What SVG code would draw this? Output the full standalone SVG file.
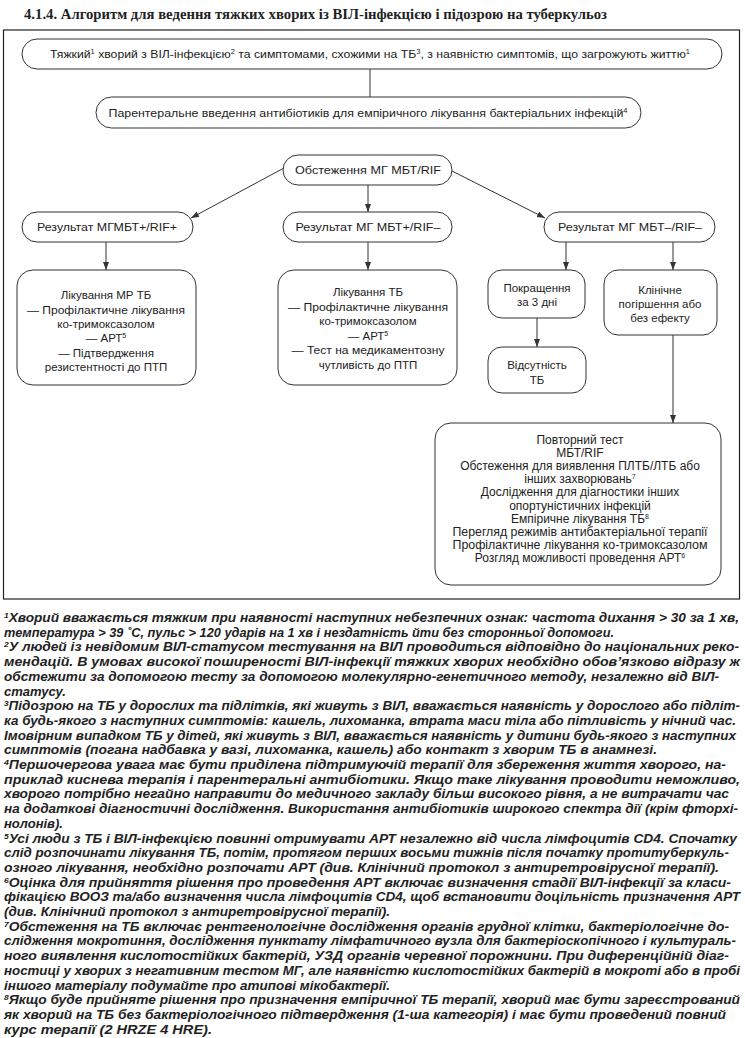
<svg xmlns="http://www.w3.org/2000/svg" width="745" height="1038" viewBox="0 0 745 1038">
<style>
.box{fill:#fff;stroke:#333;stroke-width:1}
.t{font-family:"Liberation Sans",Arial,sans-serif;font-size:11.5px;fill:#222;text-anchor:middle}
.bt{font-family:"Liberation Sans",Arial,sans-serif;font-size:12px;fill:#222;text-anchor:middle}
.sup{font-size:7px}
.fn{font-family:"Liberation Sans",Arial,sans-serif;font-size:13px;font-weight:bold;font-style:italic;fill:#222}
.fsup{font-size:8px}
.title{font-family:"Liberation Serif","Times New Roman",serif;font-size:15px;font-weight:bold;fill:#222}
.c{stroke:#333;stroke-width:1;fill:none}
.ca{stroke:#333;stroke-width:1;fill:none;marker-end:url(#ah)}
</style>
<defs>
<marker id="ah" markerUnits="userSpaceOnUse" markerWidth="8" markerHeight="6" refX="8" refY="3" orient="auto">
<path d="M0,0 L8,3 L0,6 z" fill="#333"/>
</marker>
</defs>
<rect width="745" height="1038" fill="#fff"/>
<text class="title" x="24" y="19" textLength="583" lengthAdjust="spacingAndGlyphs">4.1.4. Алгоритм для ведення тяжких хворих із ВІЛ-інфекцією і підозрою на туберкульоз</text>
<rect x="3.5" y="30" width="736" height="569" fill="none" stroke="#222" stroke-width="1.2"/>

<g id="connectors">
<line class="c" x1="370" y1="69" x2="370" y2="97"/>
<line class="ca" x1="284" y1="168" x2="191" y2="218"/>
<line class="ca" x1="368" y1="185" x2="368" y2="212"/>
<line class="ca" x1="452" y1="171" x2="545" y2="218"/>
<line class="ca" x1="106" y1="242" x2="106" y2="270"/>
<line class="ca" x1="368" y1="242" x2="368" y2="270"/>
<line class="ca" x1="566" y1="242" x2="566" y2="270"/>
<line class="ca" x1="673" y1="242" x2="673" y2="270"/>
<line class="ca" x1="537" y1="318" x2="537" y2="347"/>
<line class="ca" x1="673" y1="335" x2="673" y2="423"/>
</g>

<g id="n1">
<rect class="box" x="22" y="39" width="700" height="30" rx="15"/>
<text class="t" x="370" y="58" font-size="10.5" textLength="640" lengthAdjust="spacingAndGlyphs">Тяжкий<tspan class="sup" dy="-4">1</tspan><tspan dy="4"> хворий з ВІЛ-інфекцією</tspan><tspan class="sup" dy="-4">2</tspan><tspan dy="4"> та симптомами, схожими на ТБ</tspan><tspan class="sup" dy="-4">3</tspan><tspan dy="4">, з наявністю симптомів, що загрожують життю</tspan><tspan class="sup" dy="-4">1</tspan></text>
</g>

<g id="n2">
<rect class="box" x="96" y="97" width="545" height="31" rx="15.5"/>
<text class="t" x="368" y="117" textLength="519" lengthAdjust="spacingAndGlyphs">Парентеральне  введення антибіотиків для емпіричного лікування бактеріальних інфекцій<tspan class="sup" dy="-4">4</tspan></text>
</g>

<g id="n3">
<rect class="box" x="283" y="155" width="169" height="30" rx="15"/>
<text class="t" x="368" y="174" textLength="146" lengthAdjust="spacingAndGlyphs">Обстеження МГ МБТ/RIF</text>
</g>

<g id="rA">
<rect class="box" x="22" y="212" width="171" height="30" rx="15"/>
<text class="t" x="107" y="231" textLength="140" lengthAdjust="spacingAndGlyphs">Результат МГМБТ+/RIF+</text>
</g>
<g id="rB">
<rect class="box" x="283" y="212" width="169" height="30" rx="15"/>
<text class="t" x="368" y="231" textLength="145" lengthAdjust="spacingAndGlyphs">Результат МГ МБТ+/RIF–</text>
</g>
<g id="rC">
<rect class="box" x="544" y="212" width="171" height="30" rx="15"/>
<text class="t" x="630" y="231" textLength="144" lengthAdjust="spacingAndGlyphs">Результат МГ МБТ–/RIF–</text>
</g>

<g id="tA">
<rect class="box" x="17" y="270" width="179" height="115" rx="16"/>
<text class="t" x="106" y="299">Лікування МР ТБ</text>
<text class="t" x="106" y="314" textLength="158" lengthAdjust="spacingAndGlyphs">— Профілактичне лікування</text>
<text class="t" x="106" y="328">ко-тримоксазолом</text>
<text class="t" x="106" y="342">— АРТ<tspan class="sup" dy="-4">5</tspan></text>
<text class="t" x="106" y="357">— Підтвердження</text>
<text class="t" x="106" y="371">резистентності до ПТП</text>
</g>

<g id="tB">
<rect class="box" x="278" y="270" width="179" height="115" rx="16"/>
<text class="t" x="368" y="296">Лікування ТБ</text>
<text class="t" x="368" y="311" textLength="160" lengthAdjust="spacingAndGlyphs">— Профілактичне лікування</text>
<text class="t" x="368" y="325">ко-тримоксазолом</text>
<text class="t" x="368" y="340">— АРТ<tspan class="sup" dy="-4">5</tspan></text>
<text class="t" x="368" y="354" textLength="153" lengthAdjust="spacingAndGlyphs">— Тест на медикаментозну</text>
<text class="t" x="368" y="369">чутливість до ПТП</text>
</g>

<g id="imp">
<rect class="box" x="488" y="270" width="97" height="48" rx="14"/>
<text class="t" x="537" y="292">Покращення</text>
<text class="t" x="537" y="306">за 3 дні</text>
</g>

<g id="noTB">
<rect class="box" x="488" y="347" width="98" height="46" rx="14"/>
<text class="t" x="537" y="369">Відсутність</text>
<text class="t" x="537" y="384">ТБ</text>
</g>

<g id="worse">
<rect class="box" x="604" y="270" width="113" height="65" rx="14"/>
<text class="t" x="660" y="294">Клінічне</text>
<text class="t" x="660" y="308">погіршення або</text>
<text class="t" x="660" y="322">без ефекту</text>
</g>

<g id="big">
<rect class="box" x="435" y="423" width="286" height="162" rx="16"/>
<text class="bt" x="580" y="444">Повторний тест</text>
<text class="bt" x="580" y="457.1">МБТ/RIF</text>
<text class="bt" x="580" y="470.2">Обстеження для  виявлення ПЛТБ/ЛТБ або</text>
<text class="bt" x="580" y="483.3">інших захворювань<tspan class="sup" dy="-4">7</tspan></text>
<text class="bt" x="580" y="496.4">Дослідження для діагностики інших</text>
<text class="bt" x="580" y="509.5">опортуністичних інфекцій</text>
<text class="bt" x="580" y="522.6">Емпіричне лікування ТБ<tspan class="sup" dy="-4">8</tspan></text>
<text class="bt" x="580" y="535.7" textLength="255" lengthAdjust="spacingAndGlyphs">Перегляд режимів антибактеріальної терапії</text>
<text class="bt" x="580" y="548.8" textLength="255" lengthAdjust="spacingAndGlyphs">Профілактичне лікування ко-тримоксазолом</text>
<text class="bt" x="580" y="561.9">Розгляд можливості проведення АРТ<tspan class="sup" dy="-4">6</tspan></text>
</g>

<g id="footnotes">
<text class="fn" x="4" y="622" textLength="735" lengthAdjust="spacingAndGlyphs"><tspan class="fsup" dy="-4">1</tspan><tspan dy="4">Хворий вважається тяжким при наявності наступних небезпечних ознак: частота дихання &gt; 30 за 1 хв,</tspan></text>
<text class="fn" x="4" y="636.7" textLength="610" lengthAdjust="spacingAndGlyphs">температура &gt; 39 ˚С, пульс &gt; 120 ударів на 1 хв і нездатність йти без сторонньої допомоги.</text>
<text class="fn" x="4" y="651.4" textLength="735" lengthAdjust="spacingAndGlyphs"><tspan class="fsup" dy="-4">2</tspan><tspan dy="4">У людей із невідомим ВІЛ-статусом тестування на ВІЛ проводиться відповідно до національних реко-</tspan></text>
<text class="fn" x="4" y="666.1" textLength="736" lengthAdjust="spacingAndGlyphs">мендацій. В умовах високої поширеності ВІЛ-інфекції тяжких хворих необхідно обов’язково відразу ж</text>
<text class="fn" x="4" y="680.8" textLength="715" lengthAdjust="spacingAndGlyphs">обстежити за допомогою тесту за допомогою молекулярно-генетичного методу, незалежно від ВІЛ-</text>
<text class="fn" x="4" y="695.5">статусу.</text>
<text class="fn" x="4" y="710.2" textLength="736" lengthAdjust="spacingAndGlyphs"><tspan class="fsup" dy="-4">3</tspan><tspan dy="4">Підозрою на ТБ у дорослих та підлітків, які живуть з ВІЛ, вважається наявність у дорослого або підліт-</tspan></text>
<text class="fn" x="4" y="724.9" textLength="732" lengthAdjust="spacingAndGlyphs">ка будь-якого з наступних симптомів: кашель, лихоманка, втрата маси тіла або пітливість у нічний час.</text>
<text class="fn" x="4" y="739.6" textLength="732" lengthAdjust="spacingAndGlyphs">Імовірним випадком ТБ у дітей, які живуть з ВІЛ, вважається наявність у дитини будь-якого з наступних</text>
<text class="fn" x="4" y="754.3" textLength="653" lengthAdjust="spacingAndGlyphs">симптомів (погана надбавка у вазі, лихоманка, кашель) або контакт з хворим ТБ в анамнезі.</text>
<text class="fn" x="4" y="769" textLength="722" lengthAdjust="spacingAndGlyphs"><tspan class="fsup" dy="-4">4</tspan><tspan dy="4">Першочергова увага має бути приділена підтримуючій терапії для збереження життя хворого, на-</tspan></text>
<text class="fn" x="4" y="783.7" textLength="736" lengthAdjust="spacingAndGlyphs">приклад киснева терапія і парентеральні антибіотики. Якщо таке лікування проводити неможливо,</text>
<text class="fn" x="4" y="798.4" textLength="725" lengthAdjust="spacingAndGlyphs">хворого потрібно негайно направити до медичного закладу більш високого рівня, а не витрачати час</text>
<text class="fn" x="4" y="813.1" textLength="734" lengthAdjust="spacingAndGlyphs">на додаткові діагностичні дослідження. Використання антибіотиків широкого спектра дії (крім фторхі-</text>
<text class="fn" x="4" y="827.8">нолонів).</text>
<text class="fn" x="4" y="842.5" textLength="733" lengthAdjust="spacingAndGlyphs"><tspan class="fsup" dy="-4">5</tspan><tspan dy="4">Усі люди з ТБ і ВІЛ-інфекцією повинні отримувати АРТ незалежно від числа лімфоцитів CD4. Спочатку</tspan></text>
<text class="fn" x="4" y="857.2" textLength="725" lengthAdjust="spacingAndGlyphs">слід розпочинати лікування ТБ, потім, протягом перших восьми тижнів після початку протитуберкуль-</text>
<text class="fn" x="4" y="871.9" textLength="715" lengthAdjust="spacingAndGlyphs">озного лікування, необхідно розпочати АРТ (див. Клінічний протокол з антиретровірусної терапії).</text>
<text class="fn" x="4" y="886.6" textLength="727" lengthAdjust="spacingAndGlyphs"><tspan class="fsup" dy="-4">6</tspan><tspan dy="4">Оцінка для прийняття рішення про проведення АРТ включає визначення стадії ВІЛ-інфекції за класи-</tspan></text>
<text class="fn" x="4" y="901.3" textLength="736" lengthAdjust="spacingAndGlyphs">фікацією ВООЗ та/або визначення числа лімфоцитів CD4, щоб встановити доцільність призначення АРТ</text>
<text class="fn" x="4" y="916" textLength="386" lengthAdjust="spacingAndGlyphs">(див. Клінічний протокол з антиретровірусної терапії).</text>
<text class="fn" x="4" y="930.7" textLength="725" lengthAdjust="spacingAndGlyphs"><tspan class="fsup" dy="-4">7</tspan><tspan dy="4">Обстеження на ТБ включає рентгенологічне дослідження органів грудної клітки, бактеріологічне до-</tspan></text>
<text class="fn" x="4" y="945.4" textLength="732" lengthAdjust="spacingAndGlyphs">слідження мокротиння, дослідження пунктату лімфатичного вузла для бактеріоскопічного і культураль-</text>
<text class="fn" x="4" y="960.1" textLength="725" lengthAdjust="spacingAndGlyphs">ного виявлення кислотостійких бактерій, УЗД органів черевної порожнини. При диференційній діаг-</text>
<text class="fn" x="4" y="974.8" textLength="736" lengthAdjust="spacingAndGlyphs">ностиці у хворих з негативним тестом МГ, але наявністю кислотостійких бактерій в мокроті або в пробі</text>
<text class="fn" x="4" y="989.5" textLength="386" lengthAdjust="spacingAndGlyphs">іншого матеріалу подумайте про атипові мікобактерії.</text>
<text class="fn" x="4" y="1004.2" textLength="736" lengthAdjust="spacingAndGlyphs"><tspan class="fsup" dy="-4">8</tspan><tspan dy="4">Якщо буде прийняте рішення про призначення емпіричної ТБ терапії, хворий має бути зареєстрований</tspan></text>
<text class="fn" x="4" y="1018.9" textLength="722" lengthAdjust="spacingAndGlyphs">як хворий на ТБ без бактеріологічного підтвердження (1-ша категорія) і має бути проведений повний</text>
<text class="fn" x="4" y="1033.6" textLength="208" lengthAdjust="spacingAndGlyphs">курс терапії (2 HRZE 4 HRE).</text>
</g>
</svg>
